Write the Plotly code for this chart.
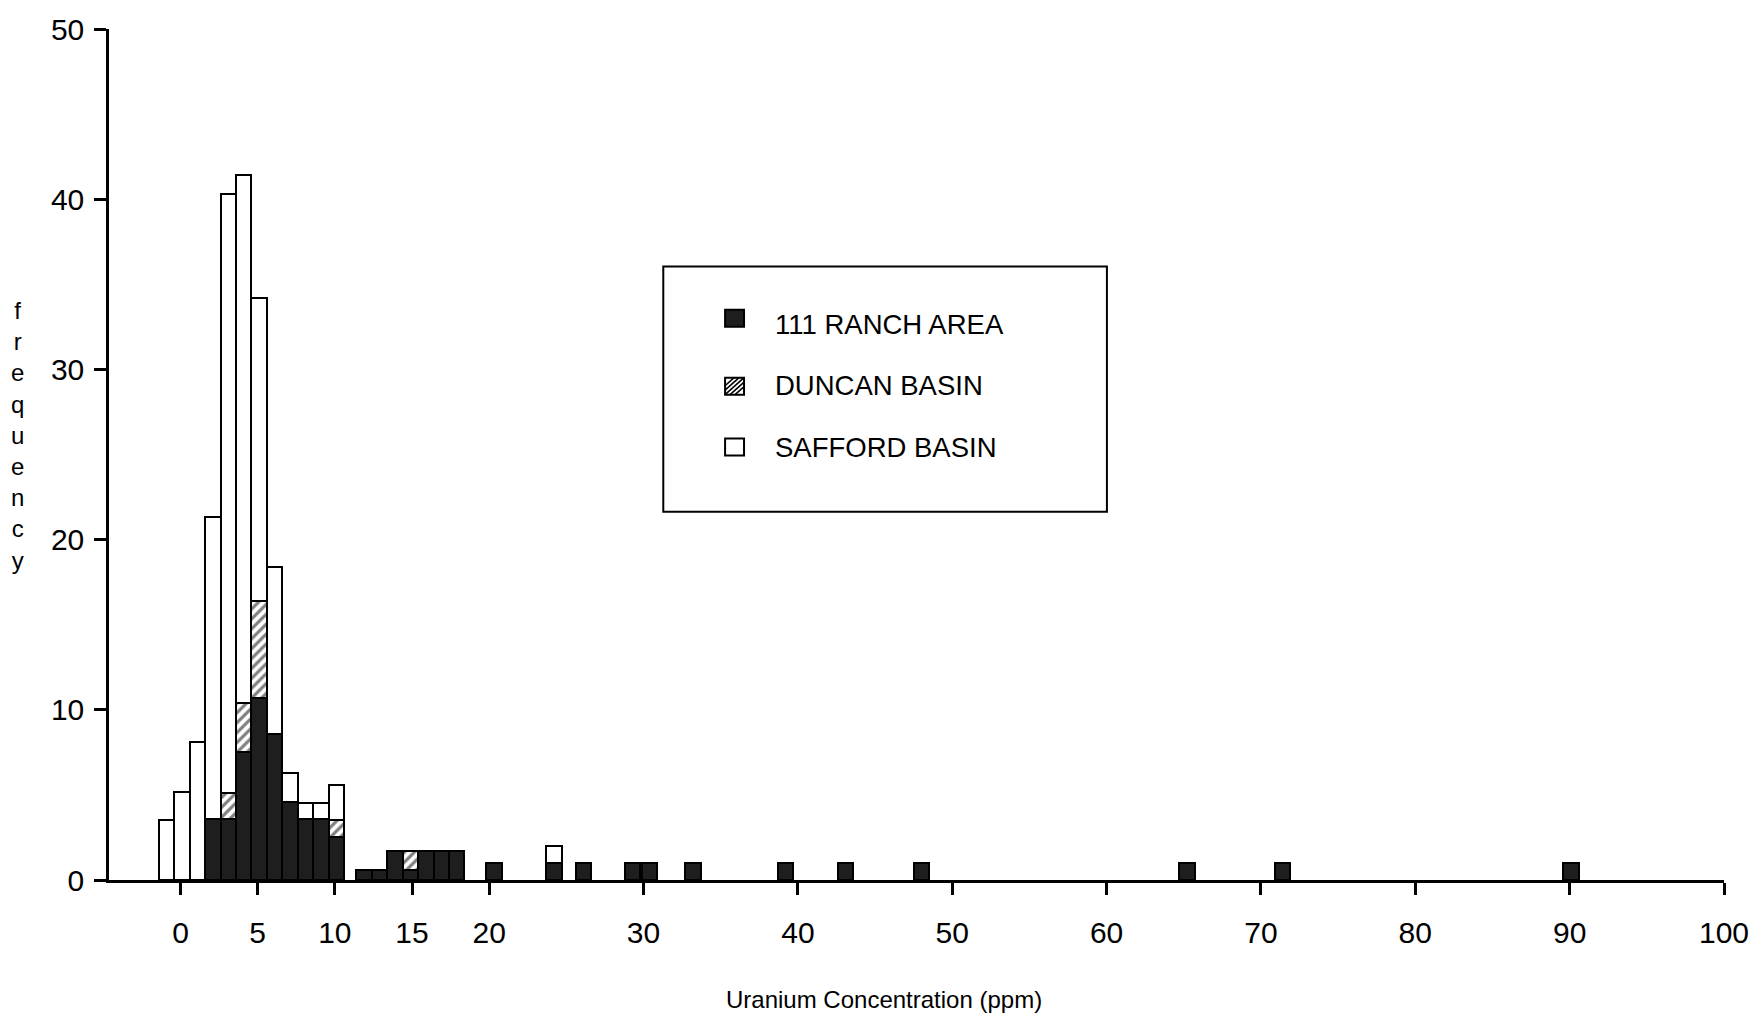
import plotly.graph_objects as go

# ---------------- data ----------------
bin_x = [-0.9, 0.1, 1.1, 2.1, 3.1, 4.1, 5.1, 6.1, 7.1, 8.1, 9.1, 10.1,
         11.9, 12.9, 13.9, 14.9, 15.9, 16.9, 17.9, 20.3, 24.2, 26.1,
         29.3, 30.4, 33.2, 39.2, 43.1, 48.0, 65.2, 71.4, 90.1]

ranch_111 = [None, None, None, 3.6, 3.6, 7.5, 10.7, 8.6, 4.6, 3.6, 3.6, 2.5,
             0.6, 0.6, 1.7, 0.6, 1.7, 1.7, 1.7, 1.0, 1.0, 1.0,
             1.0, 1.0, 1.0, 1.0, 1.0, 1.0, 1.0, 1.0, 1.0]

duncan_basin = [None, None, None, None, 1.5, 2.9, 5.7, None, None, None, None, 1.0,
                None, None, None, 1.1, None, None, None, None, None, None,
                None, None, None, None, None, None, None, None, None]

safford_basin = [3.5, 5.2, 8.1, 17.7, 35.2, 31.0, 17.8, 9.8, 1.7, 0.9, 0.9, 2.1,
                 None, None, None, None, None, None, None, None, 1.0, None,
                 None, None, None, None, None, None, None, None, None]

series_names = ["111 RANCH AREA", "DUNCAN BASIN", "SAFFORD BASIN"]

x_tick_vals = [0, 5, 10, 15, 20, 30, 40, 50, 60, 70, 80, 90, 100]
y_tick_vals = [0, 10, 20, 30, 40, 50]

x_title = "Uranium Concentration (ppm)"
y_title_letters = list("frequency")

# ---------------- layout constants ----------------
W, H = 1761, 1017
ML, MR, MT, MB = 109, 32, 27, 137
PW = W - ML - MR
PH = H - MT - MB
FONT = "Liberation Sans, Arial, sans-serif"


def px_x(p):
    return (p - ML) / PW


def px_y(p):
    return (H - MB - p) / PH


BAR_W = 1.0
LINE = dict(color="black", width=2.5)

fig = go.Figure()
fig.add_trace(go.Bar(
    x=bin_x, y=ranch_111, width=BAR_W, name=series_names[0],
    marker=dict(color="#1e1e1e", line=LINE), showlegend=False,
))
fig.add_trace(go.Bar(
    x=bin_x, y=duncan_basin, width=BAR_W, name=series_names[1],
    marker=dict(color="white", line=LINE,
                pattern=dict(shape="/", fgcolor="black", bgcolor="white",
                             size=7, solidity=0.45)),
    showlegend=False,
))
fig.add_trace(go.Bar(
    x=bin_x, y=safford_basin, width=BAR_W, name=series_names[2],
    marker=dict(color="white", line=LINE), showlegend=False,
))

fig.update_layout(
    width=W, height=H,
    margin=dict(l=ML, r=MR, t=MT, b=MB, pad=0),
    barmode="stack", bargap=0,
    plot_bgcolor="white", paper_bgcolor="white",
    font=dict(family=FONT, color="black"),
    xaxis=dict(
        range=[-4.63, 100], tickmode="array", tickvals=x_tick_vals,
        ticktext=[str(v) for v in x_tick_vals],
        showgrid=False, zeroline=False, showline=True, linecolor="black",
        linewidth=2.5, ticks="outside", ticklen=12, tickwidth=2.5,
        tickcolor="black", tickfont=dict(size=30, family=FONT),
        ticklabelstandoff=12,
    ),
    yaxis=dict(
        range=[0, 50], tickmode="array", tickvals=y_tick_vals,
        showgrid=False, zeroline=False, showline=True, linecolor="black",
        linewidth=2.5, ticks="outside", ticklen=12, tickwidth=2.5,
        tickcolor="black", tickfont=dict(size=30, family=FONT),
        ticklabelstandoff=4,
    ),
    showlegend=False,
)

annotations = [
    dict(text=x_title, xref="paper", yref="paper", x=px_x(886), y=px_y(1000),
         xanchor="center", yanchor="middle", showarrow=False,
         font=dict(size=24, family=FONT, color="black")),
    dict(text="<br>".join(y_title_letters), xref="paper", yref="paper",
         x=px_x(17), y=px_y(434), xanchor="center", yanchor="middle",
         showarrow=False, align="center",
         font=dict(size=24, family=FONT, color="black")),
]

# ---------------- legend (drawn box) ----------------
shapes = [dict(type="rect", xref="paper", yref="paper",
               x0=px_x(665), x1=px_x(1110), y0=px_y(511), y1=px_y(265),
               line=dict(color="black", width=2), fillcolor="white", layer="above")]

swatch_centers = [317, 385, 446]
text_centers = [323, 384, 446]
sw_x0, sw_x1 = 727, 746
sw_h = 17
swatch_fill = ["#1e1e1e", "white", "white"]
for i, name in enumerate(series_names):
    cy = swatch_centers[i]
    y_top, y_bot = cy - sw_h / 2, cy + sw_h / 2
    shapes.append(dict(type="rect", xref="paper", yref="paper",
                       x0=px_x(sw_x0), x1=px_x(sw_x1), y0=px_y(y_bot), y1=px_y(y_top),
                       line=dict(color="black", width=2), fillcolor=swatch_fill[i],
                       layer="above"))
    if i == 1:
        s = sw_x1 - sw_x0
        for d in (-10, -5, 0, 5, 10):
            if d >= 0:
                xa, ya = sw_x0 + d, y_bot
                xb, yb = sw_x1, y_bot - (s - d) * sw_h / s
            else:
                xa, ya = sw_x0, y_bot + d * sw_h / s
                xb, yb = sw_x1 + d, y_top
            shapes.append(dict(type="line", xref="paper", yref="paper",
                               x0=px_x(xa), y0=px_y(ya), x1=px_x(xb), y1=px_y(yb),
                               line=dict(color="black", width=1.5), layer="above"))
    annotations.append(dict(text=name, xref="paper", yref="paper",
                            x=px_x(775), y=px_y(text_centers[i]), xanchor="left",
                            yanchor="middle", showarrow=False,
                            font=dict(size=27.5, family=FONT, color="black")))

fig.update_layout(shapes=shapes, annotations=annotations)

fig.write_html("out.html", config={"displayModeBar": False},
               post_script="document.body.style.margin='0';")
